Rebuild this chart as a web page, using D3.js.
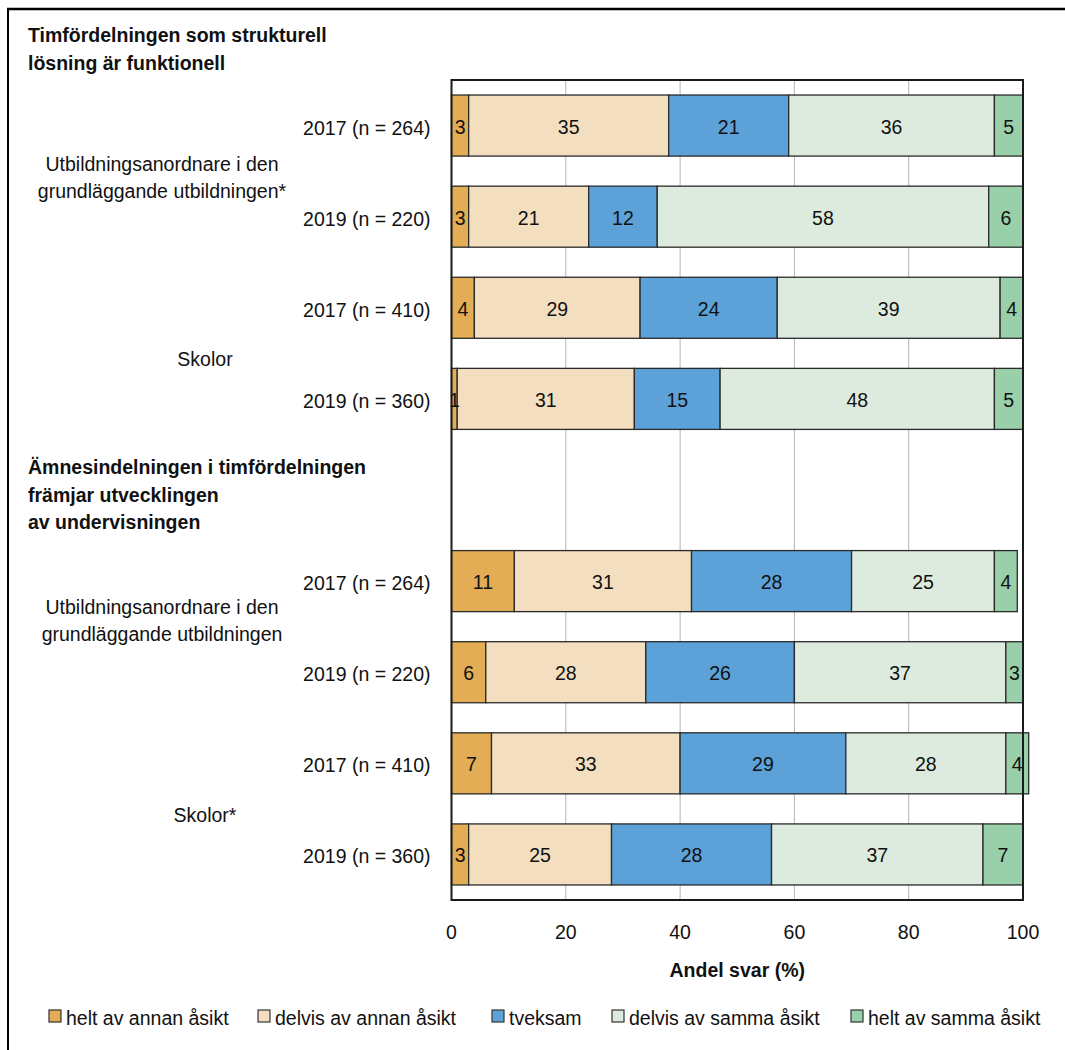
<!DOCTYPE html>
<html>
<head>
<meta charset="utf-8">
<script src="https://cdn.jsdelivr.net/npm/d3@7"></script>
<style>
  html, body { margin: 0; padding: 0; background: #fff; }
  svg { display: block; }
  text { font-family: "Liberation Sans", Arial, sans-serif; fill: #111; }
</style>
</head>
<body>
<svg id="chart" width="1065" height="1050"></svg>
<script>
// Row labels (year and sample size), top to bottom
const rowLabels = [
  "2017 (n = 264)", "2019 (n = 220)", "2017 (n = 410)", "2019 (n = 360)",
  "2017 (n = 264)", "2019 (n = 220)", "2017 (n = 410)", "2019 (n = 360)"
];
// Statement headings and respondent groups
const headings = [
  ["Timfördelningen som strukturell", "lösning är funktionell"],
  ["Ämnesindelningen i timfördelningen", "främjar utvecklingen", "av undervisningen"]
];
const groups = [
  ["Utbildningsanordnare i den", "grundläggande utbildningen*"],
  ["Skolor"],
  ["Utbildningsanordnare i den", "grundläggande utbildningen"],
  ["Skolor*"]
];
// Response categories
const seriesNames = [
  "helt av annan åsikt", "delvis av annan åsikt", "tveksam",
  "delvis av samma åsikt", "helt av samma åsikt"
];
const seriesColors = ["#E2AD55", "#F3DFBF", "#5CA2D8", "#DDEBDF", "#99D0A9"];
// Share of answers (%) per category, one value per row
const heltAnnan   = [3, 3, 4, 1, 11, 6, 7, 3];
const delvisAnnan = [35, 21, 29, 31, 31, 28, 33, 25];
const tveksam     = [21, 12, 24, 15, 28, 26, 29, 28];
const delvisSamma = [36, 58, 39, 48, 25, 37, 28, 37];
const heltSamma   = [5, 6, 4, 5, 4, 3, 4, 7];
const xTicks = [0, 20, 40, 60, 80, 100];
const xTitle = "Andel svar (%)";

const seriesValues = [heltAnnan, delvisAnnan, tveksam, delvisSamma, heltSamma];

// Band slots: four rows, an empty slot for the second heading, four rows
const slotKeys = ["r0", "r1", "r2", "r3", "gap", "r4", "r5", "r6", "r7"];
const rowKeys = ["r0", "r1", "r2", "r3", "r4", "r5", "r6", "r7"];

const table = rowKeys.map((k, i) => {
  const row = { key: k, label: rowLabels[i] };
  seriesNames.forEach((s, j) => { row[s] = seriesValues[j][i]; });
  return row;
});

const svg = d3.select("#chart");
const FS = 19.5;

const plot = { left: 451.5, right: 1023, top: 80, bottom: 900 };

const x = d3.scaleLinear().domain([0, 100]).range([plot.left, plot.right]);
const y = d3.scaleBand().domain(slotKeys).range([plot.top, plot.bottom])
  .paddingInner(0.33).paddingOuter(0.165);

const stack = d3.stack().keys(seriesNames);
const stacked = stack(table);

// Outer frame (top and left rules)
svg.append("line").attr("x1", 7).attr("x2", 1065).attr("y1", 9).attr("y2", 9)
  .attr("stroke", "#000").attr("stroke-width", 2.5);
svg.append("line").attr("x1", 8).attr("x2", 8).attr("y1", 8).attr("y2", 1050)
  .attr("stroke", "#000").attr("stroke-width", 2);

// Gridlines
svg.append("g").selectAll("line").data(xTicks.slice(1, -1)).join("line")
  .attr("x1", d => x(d)).attr("x2", d => x(d))
  .attr("y1", plot.top).attr("y2", plot.bottom)
  .attr("stroke", "#b4b4b4").attr("stroke-width", 1);

// Stacked bars
const layers = svg.append("g").selectAll("g").data(stacked).join("g")
  .attr("fill", (d, i) => seriesColors[i]);
layers.selectAll("rect").data(d => d).join("rect")
  .attr("x", d => x(d[0]))
  .attr("y", d => y(d.data.key))
  .attr("width", d => x(d[1]) - x(d[0]))
  .attr("height", y.bandwidth())
  .attr("stroke", "#2a2a2a").attr("stroke-width", 1.3);

// Value labels inside segments
const labelLayers = svg.append("g").selectAll("g").data(stacked).join("g");
labelLayers.selectAll("text").data(d => d.map(p => ({ p, key: d.key }))).join("text")
  .attr("x", d => (x(d.p[0]) + x(d.p[1])) / 2)
  .attr("y", d => y(d.p.data.key) + y.bandwidth() / 2 + 1)
  .attr("text-anchor", "middle").attr("dominant-baseline", "central")
  .style("font-size", FS + "px")
  .text(d => d.p.data[d.key]);

// Plot frame
svg.append("rect")
  .attr("x", plot.left).attr("y", plot.top)
  .attr("width", plot.right - plot.left).attr("height", plot.bottom - plot.top)
  .attr("fill", "none").attr("stroke", "#1a1a1a").attr("stroke-width", 2);

// Row labels
svg.append("g").selectAll("text").data(table).join("text")
  .attr("x", plot.left - 21)
  .attr("y", d => y(d.key) + y.bandwidth() / 2 + 2)
  .attr("text-anchor", "end").attr("dominant-baseline", "central")
  .style("font-size", FS + "px")
  .text(d => d.label);

// Group labels, centred between their two rows
const groupRows = [["r0", "r1"], ["r2", "r3"], ["r4", "r5"], ["r6", "r7"]];
const groupX = [162, 205, 162, 205];
const groupDy = [6, 6, -6, 6];
groups.forEach((lines, gi) => {
  const [a, b] = groupRows[gi];
  const mid = (y(a) + y(b)) / 2 + y.bandwidth() / 2 + groupDy[gi];
  const lh = 27;
  const t = svg.append("text").attr("text-anchor", "middle")
    .style("font-size", FS + "px");
  lines.forEach((ln, li) => {
    t.append("tspan").attr("x", groupX[gi])
      .attr("y", mid + (li - (lines.length - 1) / 2) * lh)
      .attr("dominant-baseline", "central")
      .text(ln);
  });
});

// Statement headings
const headingTop = [35, y("gap") + y.bandwidth() / 2 - 23];
headings.forEach((lines, hi) => {
  const t = svg.append("text").style("font-size", FS + "px").style("font-weight", "bold");
  lines.forEach((ln, li) => {
    t.append("tspan").attr("x", 28).attr("y", headingTop[hi] + li * 27.5)
      .attr("dominant-baseline", "central").text(ln);
  });
});

// X axis tick labels
svg.append("g").selectAll("text").data(xTicks).join("text")
  .attr("x", d => x(d)).attr("y", plot.bottom + 32)
  .attr("text-anchor", "middle").attr("dominant-baseline", "central")
  .style("font-size", FS + "px")
  .text(d => d);

svg.append("text")
  .attr("x", (plot.left + plot.right) / 2).attr("y", plot.bottom + 70)
  .attr("text-anchor", "middle").attr("dominant-baseline", "central")
  .style("font-size", FS + "px").style("font-weight", "bold")
  .text(xTitle);

// Legend
const legendX = [49, 258, 492, 612, 851];
const legend = svg.append("g").attr("transform", "translate(0,1010)");
const items = legend.selectAll("g").data(seriesNames).join("g")
  .attr("transform", (d, i) => `translate(${legendX[i]},0)`);
items.append("rect").attr("width", 12).attr("height", 12)
  .attr("fill", (d, i) => seriesColors[i])
  .attr("stroke", "#333").attr("stroke-width", 1.2);
items.append("text").attr("x", 17).attr("y", 8)
  .attr("dominant-baseline", "central")
  .style("font-size", FS + "px")
  .text(d => d);
</script>
</body>
</html>
